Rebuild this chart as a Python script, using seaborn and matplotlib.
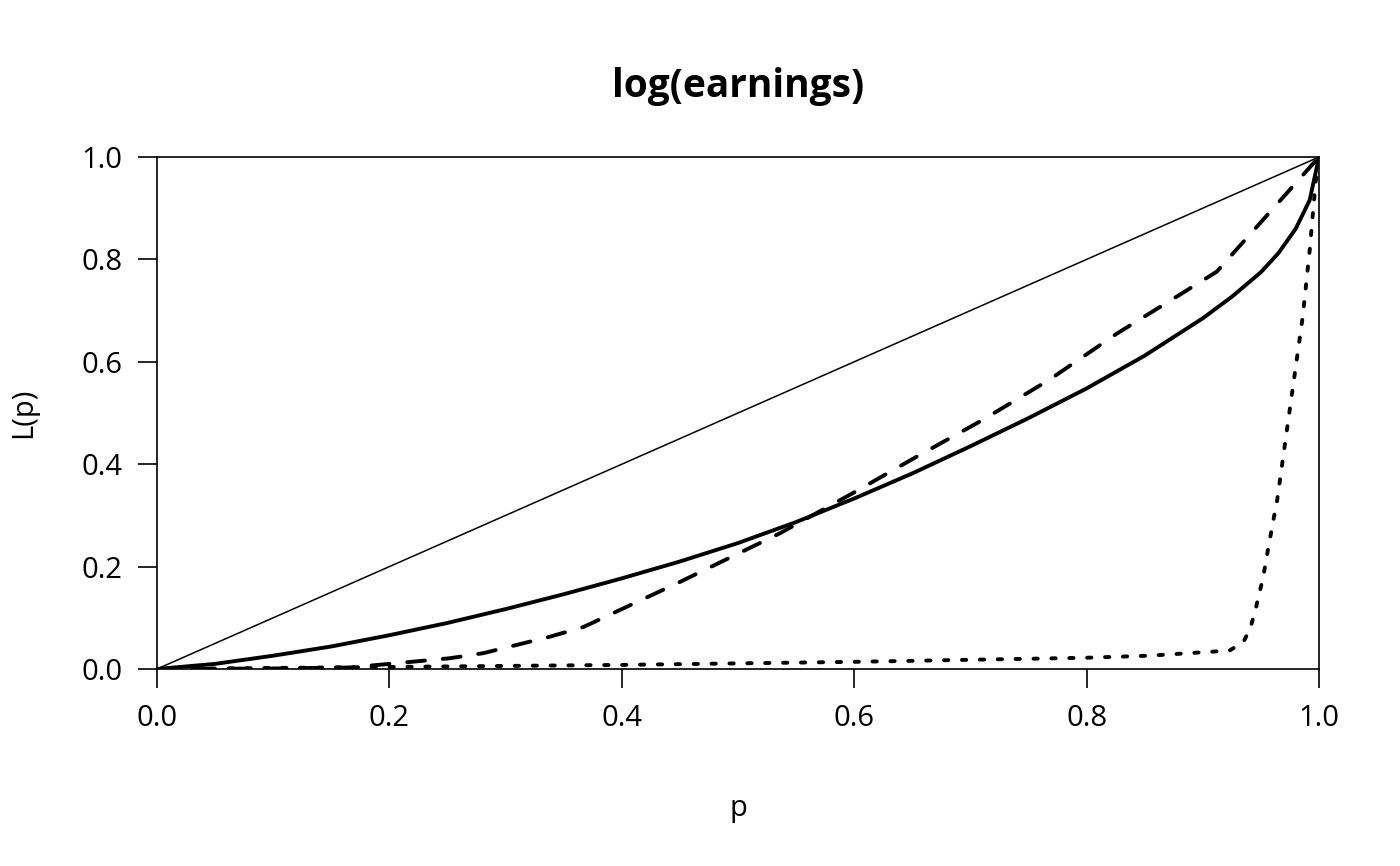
import matplotlib
matplotlib.use("Agg")
import matplotlib.pyplot as plt
import pandas as pd
import seaborn as sns

# Lorenz curves
p_solid = [0, 0.05, 0.1, 0.15, 0.2, 0.25, 0.3, 0.35, 0.4, 0.45, 0.5, 0.55, 0.6,
           0.65, 0.7, 0.75, 0.8, 0.85, 0.9, 0.925, 0.95, 0.965, 0.98, 0.992, 1.0]
L_solid = [0, 0.01, 0.026, 0.044, 0.066, 0.09, 0.117, 0.146, 0.177, 0.21, 0.246, 0.287, 0.333,
           0.382, 0.435, 0.49, 0.548, 0.612, 0.685, 0.727, 0.775, 0.812, 0.86, 0.916, 1.0]

p_dashed = [0, 0.1, 0.166, 0.2, 0.252, 0.281, 0.338, 0.367, 0.45, 0.536, 0.6,
            0.654, 0.711, 0.768, 0.826, 0.883, 0.912, 1.0]
L_dashed = [0, 0.001, 0.003, 0.01, 0.021, 0.031, 0.063, 0.082, 0.17, 0.265, 0.345,
            0.415, 0.487, 0.565, 0.655, 0.735, 0.776, 1.0]

p_dotted = [0, 0.2, 0.4, 0.6, 0.8, 0.854, 0.923, 0.935, 0.941, 0.946, 0.952, 0.956,
            0.961, 0.964, 0.97, 0.978, 0.986, 0.992, 0.997, 1.0]
L_dotted = [0, 0.004, 0.008, 0.014, 0.022, 0.026, 0.036, 0.053, 0.08, 0.122, 0.18, 0.232,
            0.294, 0.33, 0.428, 0.558, 0.688, 0.818, 0.949, 1.0]

p_equal = [0, 1]
L_equal = [0, 1]

ticks = [0.0, 0.2, 0.4, 0.6, 0.8, 1.0]
tick_labels = ["0.0", "0.2", "0.4", "0.6", "0.8", "1.0"]


def main():
    sns.set_style("ticks")
    plt.rcParams['font.family'] = ['Open Sans', 'Noto Sans', 'DejaVu Sans']
    plt.rcParams['text.color'] = 'black'
    plt.rcParams['axes.labelcolor'] = 'black'

    curves = pd.concat([
        pd.DataFrame({"p": p_solid, "L": L_solid, "curve": "solid"}),
        pd.DataFrame({"p": p_dashed, "L": L_dashed, "curve": "dashed"}),
        pd.DataFrame({"p": p_dotted, "L": L_dotted, "curve": "dotted"}),
    ])

    fig = plt.figure(figsize=(14, 8.66), dpi=100)
    ax = fig.add_axes([157 / 1400, 1 - 669 / 866, 1162 / 1400, 512 / 866])

    sns.lineplot(x=p_equal, y=L_equal, ax=ax, color="black", linewidth=1.1)
    sns.lineplot(data=curves, x="p", y="L", style="curve", ax=ax, color="black",
                 linewidth=2.8, estimator=None, legend=False,
                 dashes={"solid": "", "dashed": (4.6, 4.6), "dotted": (1.1, 3.5)},
                 dash_capstyle="round", solid_capstyle="round")

    ax.set_xlim(0, 1)
    ax.set_ylim(0, 1)
    ax.set_xticks(ticks)
    ax.set_xticklabels(tick_labels)
    ax.set_yticks(ticks)
    ax.set_yticklabels(tick_labels)
    ax.tick_params(direction="out", length=14, width=1.2, pad=11, labelsize=21, colors="black")
    for s in ax.spines.values():
        s.set_visible(True)
        s.set_linewidth(1.2)
        s.set_color("black")

    ax.set_xlabel("p", fontsize=21, labelpad=44)
    ax.set_ylabel("L(p)", fontsize=21, labelpad=31)
    ax.set_title("log(earnings)", fontsize=28, fontweight="bold", pad=43)

    fig.savefig("out.png", dpi=100, facecolor="white")


main()
